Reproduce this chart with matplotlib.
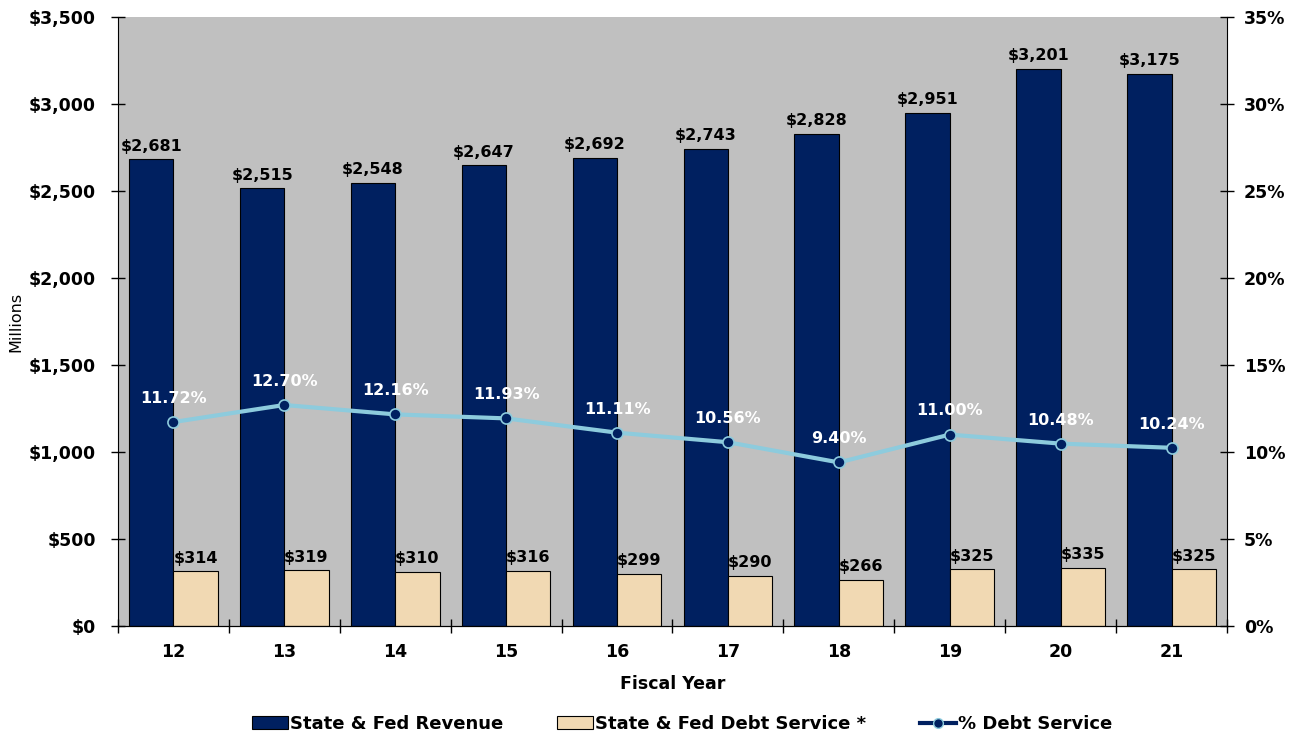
import matplotlib.pyplot as plt
import numpy as np
from matplotlib.patches import Patch
from matplotlib.lines import Line2D

# data
years = ['12', '13', '14', '15', '16', '17', '18', '19', '20', '21']
revenue = [2681, 2515, 2548, 2647, 2692, 2743, 2828, 2951, 3201, 3175]
debt_service = [314, 319, 310, 316, 299, 290, 266, 325, 335, 325]
pct_debt = [11.72, 12.70, 12.16, 11.93, 11.11, 10.56, 9.40, 11.00, 10.48, 10.24]

navy = '#002060'
wheat = '#F1D9B3'
light_blue = '#8DCBDD'
grey_bg = '#C0C0C0'

plt.rcParams['font.family'] = 'DejaVu Sans'

fig = plt.figure(figsize=(12.99, 7.36), dpi=100)
ax = fig.add_axes([0.0908, 0.1495, 0.8538, 0.8274])
ax.set_facecolor(grey_bg)

x = np.arange(len(years))
w = 0.4

# bars
ax.bar(x - w / 2, revenue, w, color=navy, edgecolor='black', linewidth=0.8, zorder=2)
ax.bar(x + w / 2, debt_service, w, color=wheat, edgecolor='black', linewidth=0.8, zorder=2)

for xi, v in zip(x, revenue):
    ax.annotate('${:,}'.format(v), (xi - w / 2, v), xytext=(0, 4), textcoords='offset points',
                ha='center', va='bottom', fontsize=11.5, fontweight='bold', color='black')
for xi, v in zip(x, debt_service):
    ax.annotate('${:,}'.format(v), (xi + w / 2, v), xytext=(0, 4), textcoords='offset points',
                ha='center', va='bottom', fontsize=11.5, fontweight='bold', color='black')

ax.set_ylim(0, 3500)
ax.set_yticks(range(0, 3501, 500))
ax.set_yticklabels(['${:,}'.format(v) for v in range(0, 3501, 500)], fontsize=12.5, fontweight='bold')
ax.set_xlim(-0.5, len(years) - 0.5)
ax.set_xticks(np.arange(-0.5, len(years), 1.0))
ax.set_xticklabels([])
ax.set_xticks(x, minor=True)
ax.set_xticklabels(years, minor=True, fontsize=12.5, fontweight='bold')
ax.tick_params(axis='x', which='minor', length=0, pad=12)
ax.tick_params(axis='x', which='major', direction='inout', length=10, width=1)
ax.tick_params(axis='y', direction='inout', length=10, width=1, pad=11)
ax.set_ylabel('Millions', fontsize=11.5, labelpad=4)
ax.set_xlabel('Fiscal Year', fontsize=12.5, fontweight='bold', labelpad=10)
ax.spines['top'].set_visible(False)
ax.spines['right'].set_visible(False)

# line on right axis
ax2 = ax.twinx()
ax2.plot(x, pct_debt, color=light_blue, linewidth=3, marker='o', markersize=8,
         markerfacecolor=navy, markeredgecolor=light_blue, markeredgewidth=1.2, zorder=3)
for xi, v in zip(x, pct_debt):
    ax2.annotate('{:.2f}%'.format(v), (xi, v), xytext=(0, 17), textcoords='offset points',
                 ha='center', va='center', fontsize=11.5, fontweight='bold', color='white')
ax2.set_ylim(0, 35)
ax2.set_yticks(range(0, 36, 5))
ax2.set_yticklabels(['{}%'.format(v) for v in range(0, 36, 5)], fontsize=12.5, fontweight='bold')
ax2.tick_params(axis='y', direction='inout', length=10, width=1, pad=7)
ax2.spines['top'].set_visible(False)
ax2.spines['left'].set_visible(False)

# legend
handles = [Patch(facecolor=navy, edgecolor='black', linewidth=0.8),
           Patch(facecolor=wheat, edgecolor='black', linewidth=0.8),
           Line2D([0], [0], color=navy, linewidth=3, marker='o', markersize=7,
                  markerfacecolor=navy, markeredgecolor=light_blue)]
labels = ['State & Fed Revenue', 'State & Fed Debt Service *', '% Debt Service']
fig.legend(handles, labels, loc='lower center', bbox_to_anchor=(0.525, -0.018), ncol=3,
           frameon=False, prop={'size': 13, 'weight': 'bold'}, handlelength=2.0,
           handletextpad=0.1, columnspacing=3.0)

fig.savefig('out.png', dpi=100)
